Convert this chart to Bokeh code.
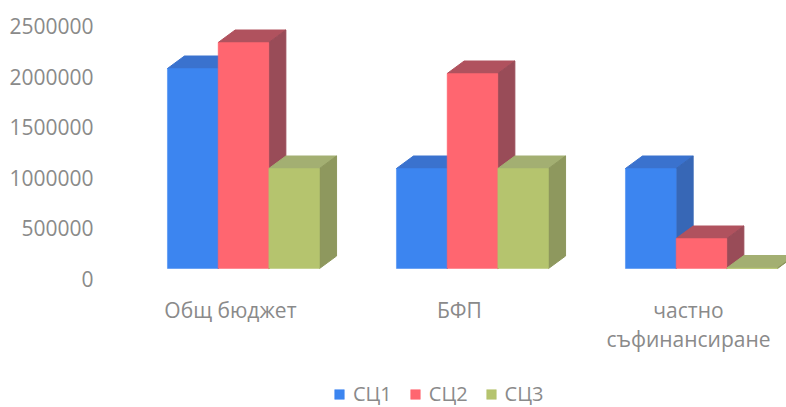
from bokeh.plotting import figure, ColumnDataSource
from bokeh.models import Range1d, LinearAxis, FixedTicker, Legend, LegendItem
from bokeh.core.properties import value
from bokeh.embed import file_html
from bokeh.resources import INLINE

categories = ["Общ бюджет", "БФП", "частно\nсъфинансиране"]
category_label_x = [-0.057, 0.943, 1.943]
series_names = ["СЦ1", "СЦ2", "СЦ3"]
sc1 = [2000000, 1000000, 1000000]
sc2 = [2260000, 1950000, 300000]
sc3 = [1000000, 1000000, 5000]
y_ticks = [0, 500000, 1000000, 1500000, 2000000, 2500000]
front = ["#3C85F0", "#FF6670", "#B5C46E"]
top = ["#3A72CE", "#B0525E", "#A3AF72"]
side = ["#3767B6", "#994C58", "#8E985E"]

FONT = "Open Sans"
GREY = "#8A8A8A"
W, H = 786, 407
PX_X = 229.0          # pixels per category
BAR_W = 50.7 / PX_X
DX = 17.0 / PX_X
DY = 125000
CENTER = 243.0        # first category centre, px
LEFT = 93

p = figure(width=W, height=H, output_backend="svg", toolbar_location=None,
           x_range=Range1d((LEFT - CENTER) / PX_X, (W - CENTER) / PX_X),
           y_range=Range1d(-(H - 268) * 1e4, 268 * 1e4),
           min_border_left=LEFT, min_border_right=0, min_border_top=0, min_border_bottom=0,
           outline_line_color=None, background_fill_color=None, border_fill_color="white")
p.grid.visible = False
p.xaxis.visible = False
p.yaxis.visible = False

p.extra_y_ranges = {"labels": Range1d(-(H - 278) * 9920, 278 * 9920)}
ax = LinearAxis(y_range_name="labels", ticker=FixedTicker(ticks=y_ticks))
ax.axis_line_color = None
ax.major_tick_line_color = None
ax.minor_tick_line_color = None
ax.major_tick_in = 0
ax.major_tick_out = 0
ax.minor_tick_in = 0
ax.minor_tick_out = 0
ax.major_label_standoff = 0
ax.major_label_text_color = GREY
ax.major_label_text_font = FONT
ax.major_label_text_font_size = "21px"
ax.formatter.use_scientific = False
p.add_layout(ax, "left")

legend_items = []
for s, vals in enumerate([sc1, sc2, sc3]):
    for i, v in enumerate(vals):
        l = i + (s - 1.5) * BAR_W
        r = l + BAR_W
        p.patch([l, r, r + DX, l + DX], [v, v, v + DY, v + DY], fill_color=top[s], line_color=top[s])
        p.patch([r, r + DX, r + DX, r], [0, DY, v + DY, v], fill_color=side[s], line_color=side[s])
    src = ColumnDataSource(dict(x=[i + (s - 1) * BAR_W for i in range(3)], top=vals))
    rend = p.vbar(x="x", top="top", bottom=0, width=BAR_W, source=src,
                  fill_color=front[s], line_color=front[s], line_width=0.5)
    legend_items.append(LegendItem(label=series_names[s], renderers=[rend]))

p.text(x=category_label_x, y=[-270000] * 3, text=categories, text_align="center", text_baseline="top",
       text_color=GREY, text_font=value(FONT), text_font_size="21px", text_line_height=1.05)

leg = Legend(items=legend_items, orientation="horizontal", location=(240, 0),
             padding=0, margin=0, spacing=17, glyph_width=12, glyph_height=12, label_standoff=8,
             background_fill_alpha=0, border_line_color=None,
             label_text_color=GREY, label_text_font=FONT, label_text_font_size="20px")
p.add_layout(leg, "center")

open("out.html", "w").write(file_html(p, INLINE))
